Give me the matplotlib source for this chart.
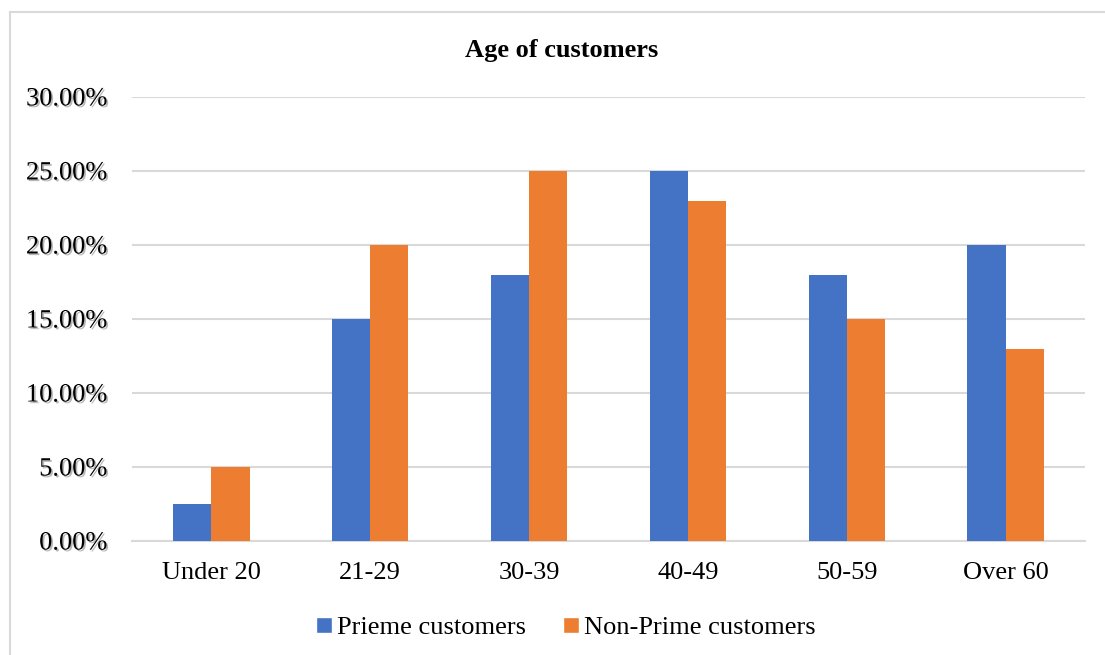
#!/usr/bin/env python3

import matplotlib.pyplot as plt
import matplotlib.patheffects as pe
import numpy as np
from matplotlib.lines import Line2D
from matplotlib.ticker import FuncFormatter

AGE_GROUPS = ["Under 20", "21-29", "30-39", "40-49", "50-59", "Over 60"]
PRIME_SHARE = [2.5, 15, 18, 25, 18, 20]
NON_PRIME_SHARE = [5, 20, 25, 23, 15, 13]
SERIES_NAMES = ["Prieme customers", "Non-Prime customers"]

BLUE = "#4472C4"
ORANGE = "#ED7D31"
GRID = "#D9D9D9"

plt.rcParams["font.family"] = ["Liberation Serif", "DejaVu Serif"]

fig = plt.figure(figsize=(11.05, 6.55), dpi=100)
ax = fig.add_axes([0.1195, 0.174, 0.8624, 0.678])

x = np.arange(len(AGE_GROUPS))
width = 0.24
ax.bar(x - width / 2, PRIME_SHARE, width, color=BLUE, label=SERIES_NAMES[0], zorder=3)
ax.bar(x + width / 2, NON_PRIME_SHARE, width, color=ORANGE, label=SERIES_NAMES[1], zorder=3)

ax.set_xlim(-0.5, len(AGE_GROUPS) - 0.5)
ax.set_ylim(0, 30)
ax.set_yticks(np.arange(0, 31, 5))
ax.yaxis.set_major_formatter(FuncFormatter(lambda v, _: f"{v:.2f}%"))
ax.set_xticks(x)
ax.set_xticklabels(AGE_GROUPS)
ax.grid(axis="y", color=GRID, linewidth=1.5, zorder=0)
ax.tick_params(axis="both", length=0, labelsize=19)
ax.tick_params(axis="y", pad=18)
ax.tick_params(axis="x", pad=15)
for spine in ["top", "right", "left"]:
    ax.spines[spine].set_visible(False)
ax.spines["bottom"].set_color(GRID)
ax.spines["bottom"].set_linewidth(1.5)

shadow = [pe.withSimplePatchShadow(offset=(1.2, -1.2), shadow_rgbFace="#888888", alpha=0.6)]
for label in ax.get_yticklabels():
    label.set_path_effects(shadow)

fig.text(562 / 1105, 1 - 50 / 655, "Age of customers", fontsize=19, fontweight="bold",
         ha="center", va="center")

handles = [
    Line2D([0], [0], marker="s", color="w", markerfacecolor=BLUE, markersize=11, linestyle="None"),
    Line2D([0], [0], marker="s", color="w", markerfacecolor=ORANGE, markersize=11, linestyle="None"),
]
fig.legend(handles, SERIES_NAMES, loc="center", bbox_to_anchor=(566 / 1105, 1 - 627 / 655), ncol=2,
           frameon=False, fontsize=19, handlelength=0.6, handletextpad=0.2, columnspacing=1.4)

# chart frame, cut off at the right and bottom edges
fig.add_artist(Line2D([10 / 1105, 1.0], [1 - 12 / 655, 1 - 12 / 655], color=GRID, linewidth=1.5))
fig.add_artist(Line2D([10 / 1105, 10 / 1105], [0.0, 1 - 12 / 655], color=GRID, linewidth=1.5))

fig.savefig("out.png", dpi=100)
plt.close(fig)
